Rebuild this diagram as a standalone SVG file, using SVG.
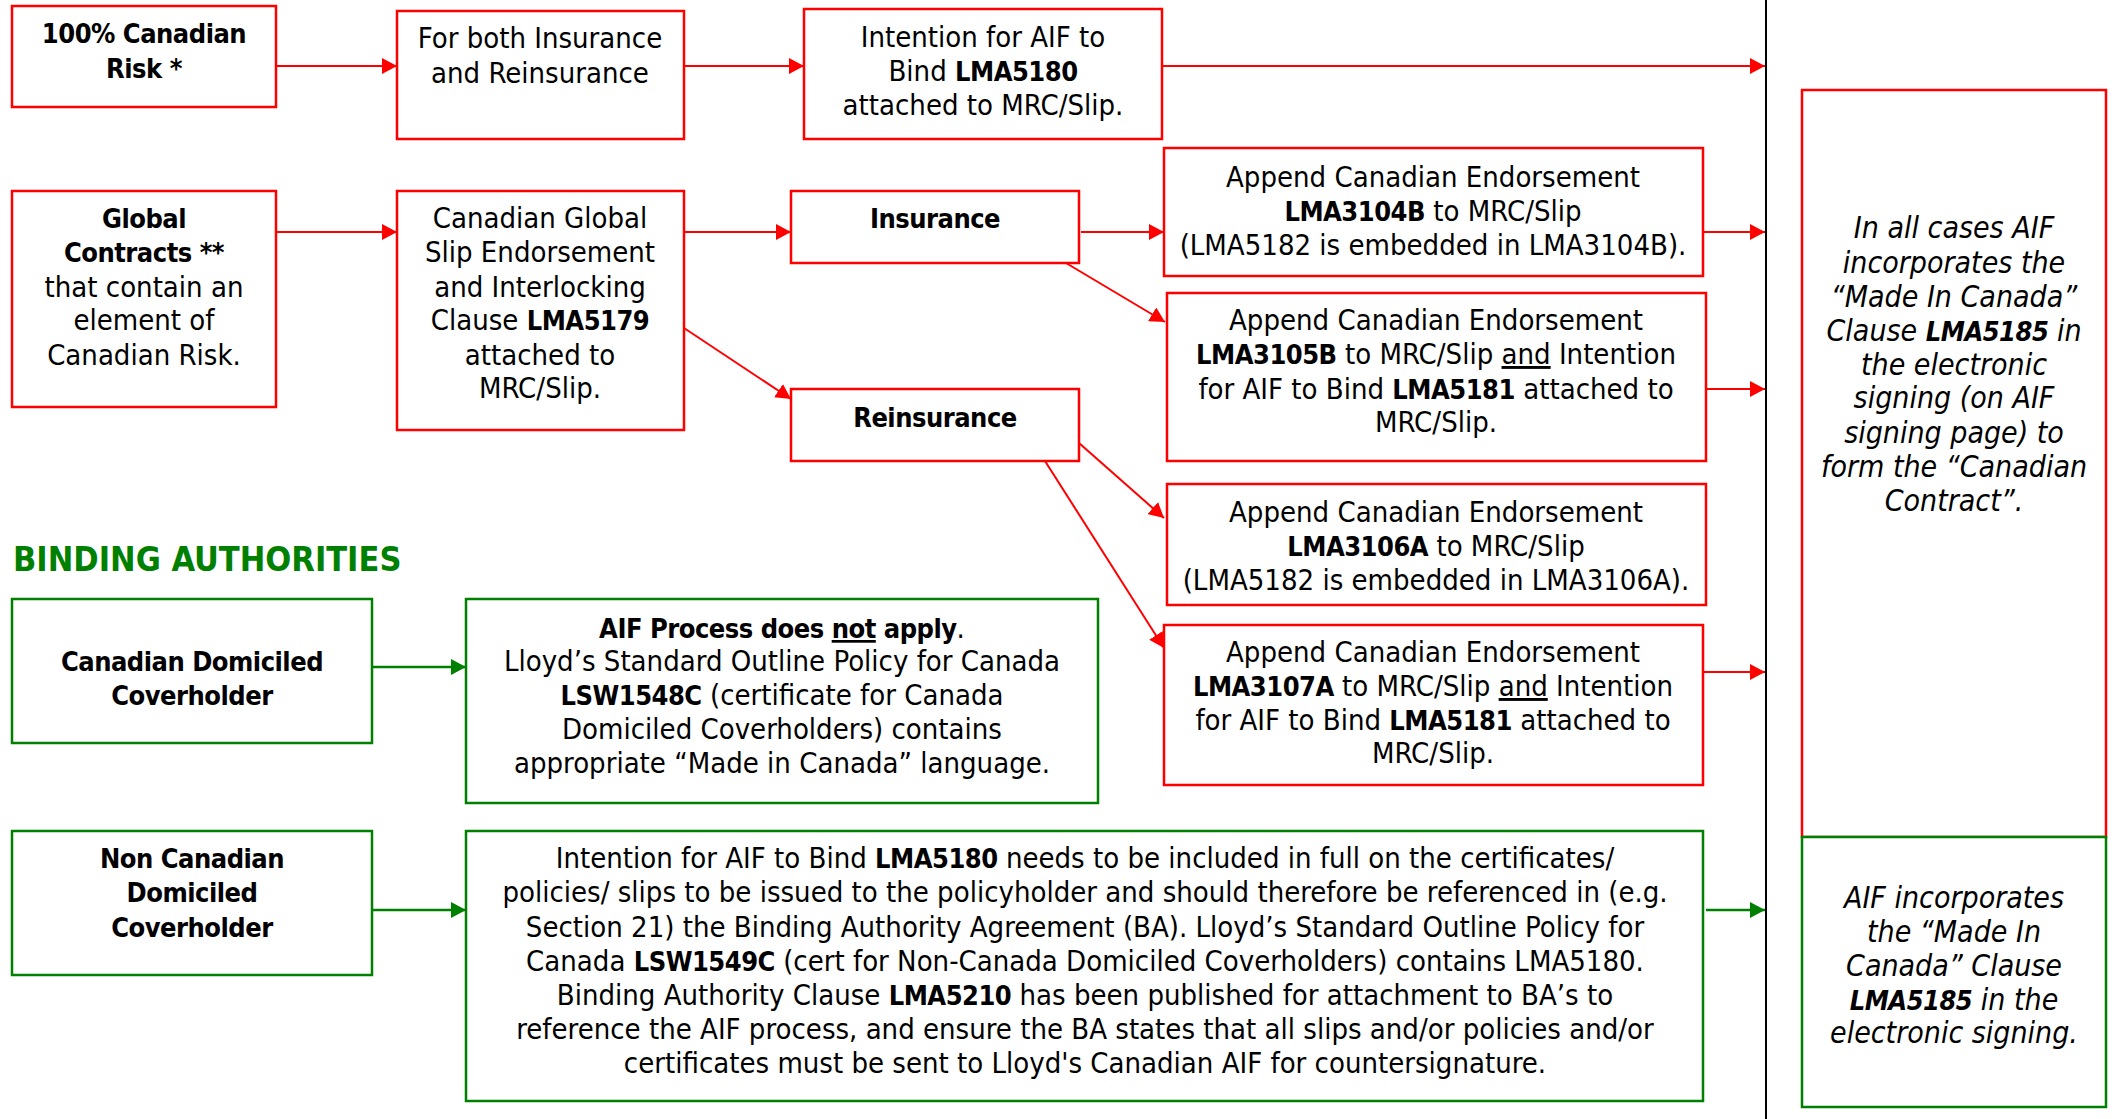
<svg xmlns="http://www.w3.org/2000/svg" width="2116" height="1119" viewBox="0 0 2116 1119">
<style>
.r{fill:#fff;stroke:#ff0000;stroke-width:2.5}
.g{fill:#fff;stroke:#008000;stroke-width:2.5}
text{font-family:"DejaVu Sans Condensed","DejaVu Sans",sans-serif;font-size:29px;fill:#000;text-anchor:middle}
.b{font-weight:bold;font-size:27px;letter-spacing:-0.5px}
.i{font-style:italic;font-size:30px}
.cr{stroke:#ff0000;stroke-width:2;fill:none}
.cg{stroke:#008000;stroke-width:2.5;fill:none}
</style>
<defs>
<marker id="ar" markerUnits="userSpaceOnUse" markerWidth="16" markerHeight="16" refX="15" refY="8" orient="auto"><path d="M0,0 L15,8 L0,16 z" fill="#ff0000"/></marker>
<marker id="ag" markerUnits="userSpaceOnUse" markerWidth="16" markerHeight="16" refX="15" refY="8" orient="auto"><path d="M0,0 L15,8 L0,16 z" fill="#008000"/></marker>
</defs>
<rect width="2116" height="1119" fill="#fff"/>
<line x1="1766" y1="0" x2="1766" y2="1119" stroke="#000" stroke-width="2"/>

<g id="connectors">
<line class="cr" x1="276" y1="66" x2="397" y2="66" marker-end="url(#ar)"/>
<line class="cr" x1="684" y1="66" x2="804" y2="66" marker-end="url(#ar)"/>
<line class="cr" x1="1162" y1="66" x2="1765" y2="66" marker-end="url(#ar)"/>
<line class="cr" x1="276" y1="232" x2="397" y2="232" marker-end="url(#ar)"/>
<line class="cr" x1="684" y1="232" x2="791" y2="232" marker-end="url(#ar)"/>
<line class="cr" x1="1081" y1="232" x2="1164" y2="232" marker-end="url(#ar)"/>
<line class="cr" x1="1066" y1="263" x2="1165" y2="322" marker-end="url(#ar)"/>
<line class="cr" x1="684" y1="328" x2="791" y2="399" marker-end="url(#ar)"/>
<line class="cr" x1="1079" y1="443" x2="1164" y2="518" marker-end="url(#ar)"/>
<line class="cr" x1="1045" y1="461" x2="1164" y2="648" marker-end="url(#ar)"/>
<line class="cr" x1="1703" y1="232" x2="1765" y2="232" marker-end="url(#ar)"/>
<line class="cr" x1="1706" y1="389" x2="1765" y2="389" marker-end="url(#ar)"/>
<line class="cr" x1="1703" y1="672" x2="1765" y2="672" marker-end="url(#ar)"/>
<line class="cg" x1="372" y1="667" x2="466" y2="667" marker-end="url(#ag)"/>
<line class="cg" x1="372" y1="910" x2="466" y2="910" marker-end="url(#ag)"/>
<line class="cg" x1="1706" y1="910" x2="1765" y2="910" marker-end="url(#ag)"/>
</g>

<g id="n100">
<rect class="r" x="12" y="6" width="264" height="101"/>
<text class="b" x="144" y="43">100% Canadian</text>
<text class="b" x="144" y="78">Risk *</text>
</g>
<g id="nboth">
<rect class="r" x="397" y="11" width="287" height="128"/>
<text x="540" y="48">For both Insurance</text>
<text x="540" y="83">and Reinsurance</text>
</g>
<g id="n5180">
<rect class="r" x="804" y="9" width="358" height="130"/>
<text x="983" y="47">Intention for AIF to</text>
<text x="983" y="81">Bind <tspan class="b">LMA5180</tspan></text>
<text x="983" y="115">attached to MRC/Slip.</text>
</g>
<g id="nglobal">
<rect class="r" x="12" y="191" width="264" height="216"/>
<text class="b" x="144" y="228">Global</text>
<text class="b" x="144" y="262">Contracts **</text>
<text x="144" y="297">that contain an</text>
<text x="144" y="330">element of</text>
<text x="144" y="365">Canadian Risk.</text>
</g>
<g id="n5179">
<rect class="r" x="397" y="191" width="287" height="239"/>
<text x="540" y="228">Canadian Global</text>
<text x="540" y="262">Slip Endorsement</text>
<text x="540" y="297">and Interlocking</text>
<text x="540" y="330">Clause <tspan class="b">LMA5179</tspan></text>
<text x="540" y="365">attached to</text>
<text x="540" y="398">MRC/Slip.</text>
</g>
<g id="nins">
<rect class="r" x="791" y="191" width="288" height="72"/>
<text class="b" x="935" y="228">Insurance</text>
</g>
<g id="nreins">
<rect class="r" x="791" y="389" width="288" height="72"/>
<text class="b" x="935" y="427">Reinsurance</text>
</g>
<g id="n3104">
<rect class="r" x="1164" y="148" width="539" height="128"/>
<text x="1433" y="187">Append Canadian Endorsement</text>
<text x="1433" y="221"><tspan class="b">LMA3104B</tspan> to MRC/Slip</text>
<text x="1433" y="255">(LMA5182 is embedded in LMA3104B).</text>
</g>
<g id="n3105">
<rect class="r" x="1167" y="293" width="539" height="168"/>
<text x="1436" y="330">Append Canadian Endorsement</text>
<text x="1436" y="364"><tspan class="b">LMA3105B</tspan> to MRC/Slip <tspan text-decoration="underline">and</tspan> Intention</text>
<text x="1436" y="399">for AIF to Bind <tspan class="b">LMA5181</tspan> attached to</text>
<text x="1436" y="432">MRC/Slip.</text>
</g>
<g id="n3106">
<rect class="r" x="1167" y="484" width="539" height="121"/>
<text x="1436" y="522">Append Canadian Endorsement</text>
<text x="1436" y="556"><tspan class="b">LMA3106A</tspan> to MRC/Slip</text>
<text x="1436" y="590">(LMA5182 is embedded in LMA3106A).</text>
</g>
<g id="n3107">
<rect class="r" x="1164" y="625" width="539" height="160"/>
<text x="1433" y="662">Append Canadian Endorsement</text>
<text x="1433" y="696"><tspan class="b">LMA3107A</tspan> to MRC/Slip <tspan text-decoration="underline">and</tspan> Intention</text>
<text x="1433" y="730">for AIF to Bind <tspan class="b">LMA5181</tspan> attached to</text>
<text x="1433" y="763">MRC/Slip.</text>
</g>
<g id="nallcases">
<rect class="r" x="1802" y="90" width="304" height="747"/>
<text class="i" x="1954" y="238">In all cases AIF</text>
<text class="i" x="1954" y="273">incorporates the</text>
<text class="i" x="1954" y="307">“Made In Canada”</text>
<text class="i" x="1954" y="341">Clause <tspan class="b">LMA5185</tspan> in</text>
<text class="i" x="1954" y="375">the electronic</text>
<text class="i" x="1954" y="408">signing (on AIF</text>
<text class="i" x="1954" y="443">signing page) to</text>
<text class="i" x="1954" y="477">form the “Canadian</text>
<text class="i" x="1954" y="511">Contract”.</text>
</g>

<text x="13" y="571" style="text-anchor:start;font-weight:bold;font-size:34px;fill:#008000">BINDING AUTHORITIES</text>

<g id="ncdc">
<rect class="g" x="12" y="599" width="360" height="144"/>
<text class="b" x="192" y="671">Canadian Domiciled</text>
<text class="b" x="192" y="705">Coverholder</text>
</g>
<g id="nnotapply">
<rect class="g" x="466" y="599" width="632" height="204"/>
<text x="782" y="638"><tspan class="b">AIF Process does <tspan text-decoration="underline">not</tspan> apply</tspan>.</text>
<text x="782" y="671">Lloyd’s Standard Outline Policy for Canada</text>
<text x="782" y="705"><tspan class="b">LSW1548C</tspan> (certificate for Canada</text>
<text x="782" y="739">Domiciled Coverholders) contains</text>
<text x="782" y="773">appropriate “Made in Canada” language.</text>
</g>
<g id="nncdc">
<rect class="g" x="12" y="831" width="360" height="144"/>
<text class="b" x="192" y="868">Non Canadian</text>
<text class="b" x="192" y="902">Domiciled</text>
<text class="b" x="192" y="937">Coverholder</text>
</g>
<g id="nba">
<rect class="g" x="466" y="831" width="1237" height="270"/>
<text x="1085" y="868">Intention for AIF to Bind <tspan class="b">LMA5180</tspan> needs to be included in full on the certificates/</text>
<text x="1085" y="902">policies/ slips to be issued to the policyholder and should therefore be referenced in (e.g.</text>
<text x="1085" y="937">Section 21) the Binding Authority Agreement (BA). Lloyd’s Standard Outline Policy for</text>
<text x="1085" y="971">Canada <tspan class="b">LSW1549C</tspan> (cert for Non-Canada Domiciled Coverholders) contains LMA5180.</text>
<text x="1085" y="1005">Binding Authority Clause <tspan class="b">LMA5210</tspan> has been published for attachment to BA’s to</text>
<text x="1085" y="1039">reference the AIF process, and ensure the BA states that all slips and/or policies and/or</text>
<text x="1085" y="1073">certificates must be sent to Lloyd's Canadian AIF for countersignature.</text>
</g>
<g id="nmic">
<rect class="g" x="1802" y="837" width="304" height="270"/>
<text class="i" x="1954" y="908">AIF incorporates</text>
<text class="i" x="1954" y="942">the “Made In</text>
<text class="i" x="1954" y="976">Canada” Clause</text>
<text class="i" x="1954" y="1010"><tspan class="b">LMA5185</tspan> in the</text>
<text class="i" x="1954" y="1043">electronic signing.</text>
</g>
</svg>
